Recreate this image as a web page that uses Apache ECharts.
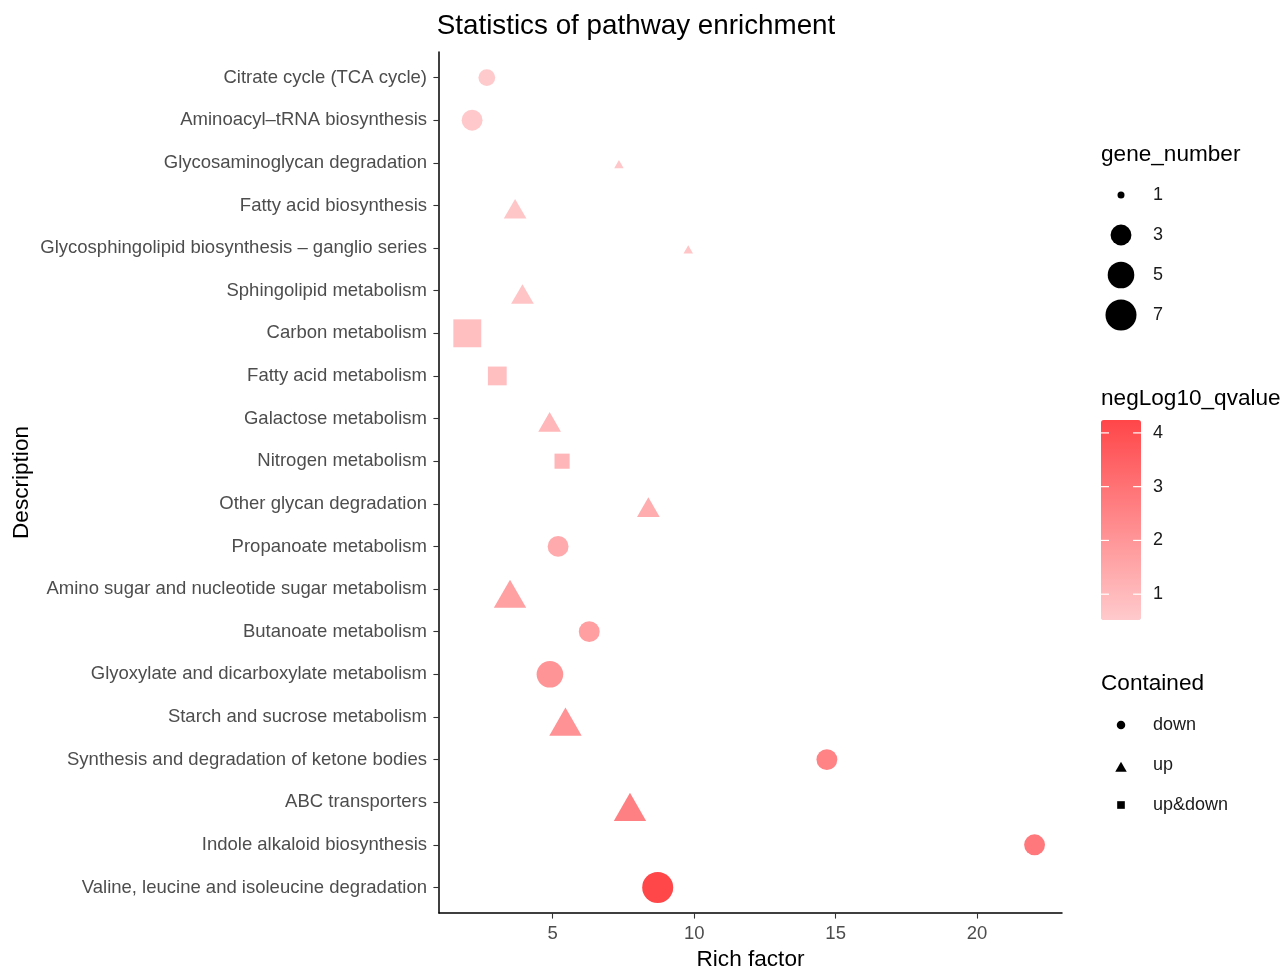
<!DOCTYPE html>
<html>
<head>
<meta charset="utf-8">
<title>Statistics of pathway enrichment</title>
<script src="https://cdn.jsdelivr.net/npm/echarts@6/dist/echarts.min.js"></script>
<style>
  html, body { margin: 0; padding: 0; background: #ffffff; }
  #chart { width: 1287px; height: 969px; }
</style>
</head>
<body>
<div id="chart"></div>
<script>
// Enriched pathways, listed top to bottom
const pathways = [
  'Citrate cycle (TCA cycle)',
  'Aminoacyl–tRNA biosynthesis',
  'Glycosaminoglycan degradation',
  'Fatty acid biosynthesis',
  'Glycosphingolipid biosynthesis – ganglio series',
  'Sphingolipid metabolism',
  'Carbon metabolism',
  'Fatty acid metabolism',
  'Galactose metabolism',
  'Nitrogen metabolism',
  'Other glycan degradation',
  'Propanoate metabolism',
  'Amino sugar and nucleotide sugar metabolism',
  'Butanoate metabolism',
  'Glyoxylate and dicarboxylate metabolism',
  'Starch and sucrose metabolism',
  'Synthesis and degradation of ketone bodies',
  'ABC transporters',
  'Indole alkaloid biosynthesis',
  'Valine, leucine and isoleucine degradation'
];
const richFactor = [2.67, 2.15, 7.34, 3.67, 9.79, 3.93, 1.98, 3.04, 4.89, 5.33,
                    8.38, 5.19, 3.49, 6.29, 4.90, 5.45, 14.69, 7.73, 22.03, 8.71];
const geneNumber = [2, 3, 1, 2, 1, 2, 7, 3, 2, 2,
                    2, 3, 4, 3, 5, 4, 3, 4, 3, 7];
const negLog10Q  = [0.52, 0.55, 0.60, 0.62, 0.65, 0.70, 0.82, 0.85, 1.05, 1.08,
                    1.35, 1.40, 1.70, 1.72, 2.05, 2.10, 2.55, 2.60, 2.80, 4.24];
const contained  = ['down', 'down', 'up', 'up', 'up', 'up', 'up&down', 'up&down', 'up', 'up&down',
                    'up', 'down', 'up', 'down', 'down', 'up', 'down', 'up', 'down', 'down'];

// Legend levels and tick labels
const sizeBreaks  = [1, 3, 5, 7];
const shapeLevels = ['down', 'up', 'up&down'];
const xTicks      = [5, 10, 15, 20];
const colorTicks  = [1, 2, 3, 4];

const FONT = '"Liberation Sans", Arial, Helvetica, sans-serif';
const AXIS_TEXT = '#4D4D4D';
const LEGEND_TEXT = '#1A1A1A';
const LOW_COLOR = '#FFCACC';
const HIGH_COLOR = '#FF4649';

// Point diameter on a square-root (area) scale over 1..7 genes
function pointDiameter(n) {
  return 7 + 24 * Math.sqrt((n - 1) / 6);
}

// Equal-area glyphs for each "Contained" level
function glyph(level, d) {
  if (level === 'up') {
    const w = 1.35 * d, h = 1.17 * d;
    return { symbol: 'triangle', symbolSize: [w, h], symbolOffset: [0, h / 6] };
  }
  if (level === 'up&down') {
    const s = 0.9 * d;
    return { symbol: 'rect', symbolSize: [s, s], symbolOffset: [0, 0] };
  }
  return { symbol: 'circle', symbolSize: d, symbolOffset: [0, 0] };
}

const rowIndex = pathways.map((_, i) => i);

// Main scatter: one series per "Contained" level
const pointSeries = shapeLevels.map(level => ({
  type: 'scatter',
  name: level,
  xAxisIndex: 0,
  yAxisIndex: 0,
  z: 3,
  data: rowIndex
    .filter(i => contained[i] === level)
    .map(i => Object.assign(
      { value: [richFactor[i], i, geneNumber[i], negLog10Q[i]] },
      glyph(level, pointDiameter(geneNumber[i]))
    )),
  itemStyle: { opacity: 1 },
  emphasis: { disabled: true }
}));

// Size legend glyphs
const sizeLegendSeries = {
  type: 'scatter',
  xAxisIndex: 1,
  yAxisIndex: 1,
  silent: true,
  data: sizeBreaks.map((n, k) => ({ value: [0.5, k], symbol: 'circle', symbolSize: pointDiameter(n) })),
  itemStyle: { color: '#000000', opacity: 1 }
};

// Shape legend glyphs
const shapeLegendSeries = {
  type: 'scatter',
  xAxisIndex: 2,
  yAxisIndex: 2,
  silent: true,
  data: shapeLevels.map((level, k) => Object.assign({ value: [0.5, k] }, glyph(level, 8.5))),
  itemStyle: { color: '#000000', opacity: 1 }
};

// Colorbar frame: carries the tick labels beside the visualMap bar
const colorbarHolder = {
  type: 'scatter',
  xAxisIndex: 3,
  yAxisIndex: 3,
  silent: true,
  data: []
};

const hiddenX = (gridIndex) => ({
  type: 'value', gridIndex, min: 0, max: 1, show: false
});

const titleText = (text, x, y, size, align) => ({
  type: 'text', x, y, z: 50, silent: true,
  style: {
    text, font: size + 'px ' + FONT, fill: '#000000',
    textAlign: align, textVerticalAlign: 'middle', align, verticalAlign: 'middle'
  }
});

const option = {
  backgroundColor: '#ffffff',
  animation: false,
  textStyle: { fontFamily: FONT },
  grid: [
    { left: 439, top: 52, width: 623, height: 861, outerBoundsMode: 'none' },   // main panel
    { left: 1101, top: 175, width: 40, height: 160, outerBoundsMode: 'none' },  // gene_number legend
    { left: 1101, top: 705, width: 40, height: 120, outerBoundsMode: 'none' },  // Contained legend
    { left: 1101, top: 420, width: 40, height: 200, outerBoundsMode: 'none' }   // colorbar labels
  ],
  xAxis: [
    {
      type: 'value', gridIndex: 0, min: 0.98, max: 23.0,
      splitLine: { show: false },
      axisLine: { show: true, onZero: false, lineStyle: { color: '#000000', width: 1.5 } },
      axisTick: { show: true, customValues: xTicks, length: 5.6, lineStyle: { color: '#333333', width: 1.1 } },
      axisLabel: { customValues: xTicks, color: AXIS_TEXT, fontSize: 18.5, fontFamily: FONT, margin: 11 },
      name: 'Rich factor',
      nameLocation: 'middle',
      nameGap: 34,
      nameTextStyle: { color: '#000000', fontSize: 22.6, fontFamily: FONT }
    },
    hiddenX(1),
    hiddenX(2),
    hiddenX(3)
  ],
  yAxis: [
    {
      type: 'value', gridIndex: 0, min: -0.6, max: 19.6, inverse: true,
      splitLine: { show: false },
      axisLine: { show: true, onZero: false, lineStyle: { color: '#000000', width: 1.5 } },
      axisTick: { show: true, customValues: rowIndex, length: 5.6, lineStyle: { color: '#333333', width: 1.1 } },
      axisLabel: {
        customValues: rowIndex,
        formatter: v => pathways[Math.round(v)],
        color: AXIS_TEXT, fontSize: 18.5, fontFamily: FONT, margin: 12,
        padding: [3, 0, 0, 0]
      },
      name: 'Description',
      nameLocation: 'middle',
      nameGap: 406,
      nameTextStyle: { color: '#000000', fontSize: 22.6, fontFamily: FONT }
    },
    {
      type: 'category', gridIndex: 1, inverse: true, position: 'right',
      data: sizeBreaks.map(String),
      axisLine: { show: false }, axisTick: { show: false }, splitLine: { show: false },
      axisLabel: { color: LEGEND_TEXT, fontSize: 18, fontFamily: FONT, margin: 12, align: 'left', padding: [3, 0, 0, 0] }
    },
    {
      type: 'category', gridIndex: 2, inverse: true, position: 'right',
      data: shapeLevels,
      axisLine: { show: false }, axisTick: { show: false }, splitLine: { show: false },
      axisLabel: { color: LEGEND_TEXT, fontSize: 18, fontFamily: FONT, margin: 12, align: 'left', padding: [3, 0, 0, 0] }
    },
    {
      type: 'value', gridIndex: 3, min: 0.52, max: 4.24, position: 'right',
      splitLine: { show: false },
      axisLine: { show: false },
      axisTick: { show: false },
      axisLabel: { customValues: colorTicks, color: LEGEND_TEXT, fontSize: 18, fontFamily: FONT, margin: 12, padding: [3, 0, 0, 0] }
    }
  ],
  visualMap: [{
    type: 'continuous',
    min: 0.52,
    max: 4.24,
    dimension: 3,
    seriesIndex: [0, 1, 2],
    inRange: { color: [LOW_COLOR, HIGH_COLOR] },
    calculable: false,
    hoverLink: false,
    orient: 'vertical',
    left: 1101,
    top: 420,
    itemWidth: 40,
    itemHeight: 200,
    padding: 0,
    z: 10
  }],
  graphic: [
    titleText('Statistics of pathway enrichment', 636, 26, 27.8, 'center'),
    titleText('gene_number', 1101, 155, 22.6, 'left'),
    titleText('negLog10_qvalue', 1101, 399, 22.6, 'left'),
    titleText('Contained', 1101, 684, 22.6, 'left')
  ],
  series: pointSeries.concat([sizeLegendSeries, shapeLegendSeries, colorbarHolder])
};

const chart = echarts.init(document.getElementById('chart'), null, { renderer: 'canvas' });
chart.setOption(option);

// White colorbar ticks on both edges of the bar, placed through the colorbar axis scale
const barLeft = 1101, barRight = 1141, tickLen = 8;
const barTicks = [];
colorTicks.forEach(v => {
  const y = chart.convertToPixel({ xAxisIndex: 3, yAxisIndex: 3 }, [0, v])[1];
  barTicks.push(
    { type: 'line', z: 60, silent: true, shape: { x1: barLeft, y1: y, x2: barLeft + tickLen, y2: y },
      style: { stroke: '#ffffff', lineWidth: 1.2 } },
    { type: 'line', z: 60, silent: true, shape: { x1: barRight - tickLen, y1: y, x2: barRight, y2: y },
      style: { stroke: '#ffffff', lineWidth: 1.2 } }
  );
});
chart.setOption({ graphic: option.graphic.concat(barTicks) });
</script>
</body>
</html>
